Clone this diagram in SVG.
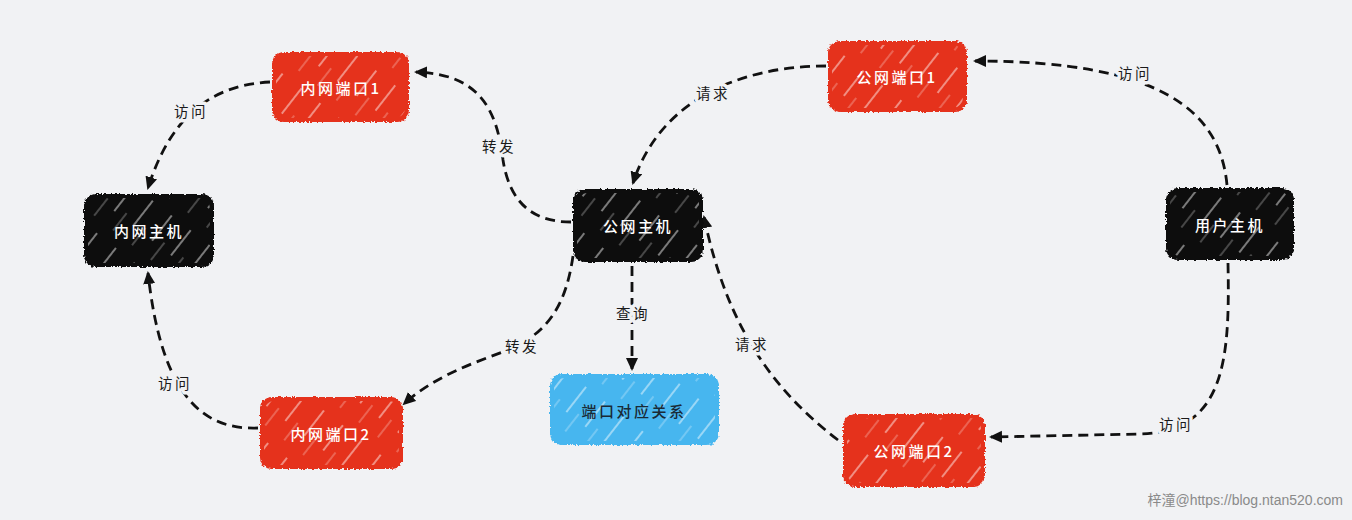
<svg xmlns="http://www.w3.org/2000/svg" width="1352" height="520" viewBox="0 0 1352 520">
<defs>
  <style>
    .node-text{font-family:"Noto Sans CJK SC","Liberation Sans",sans-serif;font-size:15px;font-weight:500;fill:#ffffff;letter-spacing:2.5px;text-anchor:middle;dominant-baseline:central}
    .lbl{font-family:"Noto Sans CJK SC","Liberation Sans",sans-serif;font-size:14.5px;fill:#1a1a1a;letter-spacing:2.5px;text-anchor:middle;dominant-baseline:central;stroke:#f1f2f4;stroke-width:7px;paint-order:stroke;stroke-linejoin:round}
    .conn{fill:none;stroke:#111;stroke-width:2.8;stroke-dasharray:10 6;marker-end:url(#arrow)}
    .red{fill:#e5311d}
    .black{fill:#0d0d0d}
    .blue{fill:#46b6ef}
    .hatch{fill:url(#hachure)}
  </style>
  <filter id="rough" x="-5%" y="-5%" width="110%" height="110%">
    <feTurbulence type="fractalNoise" baseFrequency="0.45" numOctaves="2" seed="3" result="n"/>
    <feDisplacementMap in="SourceGraphic" in2="n" scale="4" xChannelSelector="R" yChannelSelector="G"/>
  </filter>
  <pattern id="hachure" patternUnits="userSpaceOnUse" width="24" height="60" patternTransform="rotate(38)">
    <line x1="4" y1="4" x2="4" y2="36" stroke="#ffffff" stroke-opacity="0.6" stroke-width="1.5"/>
    <line x1="15" y1="30" x2="15" y2="52" stroke="#ffffff" stroke-opacity="0.4" stroke-width="1.2"/>
  </pattern>
  <marker id="arrow" markerUnits="userSpaceOnUse" markerWidth="15" markerHeight="13" refX="11" refY="6" orient="auto">
    <path d="M0,0 L13,6 L0,12 Z" fill="#111"/>
  </marker>
</defs>
<rect x="0" y="0" width="1352" height="520" fill="#f1f2f4"/>

<g id="connectors">
  <path class="conn" d="M571,222 C535,222 510,205 503,160 C497,110 480,74 416,72"/>
  <path class="conn" d="M270,82 C215,85 172,112 148,188"/>
  <path class="conn" d="M258,428 C205,430 162,400 148,273"/>
  <path class="conn" d="M573,256 C566,305 548,333 508,350 C470,364 432,378 404,404"/>
  <path class="conn" d="M632,266 L632,369"/>
  <path class="conn" d="M826,66 C740,66 660,100 633,183"/>
  <path class="conn" d="M1227,185 C1220,110 1160,61 975,61"/>
  <path class="conn" d="M1228,263 C1230,360 1225,432 1140,434 L991,437"/>
  <path class="conn" d="M838,440 C762,382 724,312 704,217"/>
  <text class="lbl" x="499" y="145">转发</text>
  <text class="lbl" x="191" y="110">访问</text>
  <text class="lbl" x="175" y="382">访问</text>
  <text class="lbl" x="522" y="345">转发</text>
  <text class="lbl" x="633" y="312">查询</text>
  <text class="lbl" x="713" y="92">请求</text>
  <text class="lbl" x="1135" y="72">访问</text>
  <text class="lbl" x="1176" y="423">访问</text>
  <text class="lbl" x="752" y="343">请求</text>
</g>

<g id="node-nw-port1">
  <rect class="red" x="272" y="52" width="137" height="70" rx="12" filter="url(#rough)"/>
  <rect class="hatch" x="276" y="56" width="129" height="62" rx="10"/>
  <text class="node-text" x="341" y="87">内网端口1</text>
</g>
<g id="node-nw-host">
  <rect class="black" x="84" y="194" width="130" height="73" rx="12" filter="url(#rough)"/>
  <rect class="hatch" x="88" y="198" width="122" height="65" rx="10"/>
  <text class="node-text" x="149" y="230">内网主机</text>
</g>
<g id="node-nw-port2">
  <rect class="red" x="260" y="397" width="143" height="72" rx="12" filter="url(#rough)"/>
  <rect class="hatch" x="264" y="401" width="135" height="64" rx="10"/>
  <text class="node-text" x="331" y="433">内网端口2</text>
</g>
<g id="node-pub-host">
  <rect class="black" x="573" y="189" width="130" height="73" rx="12" filter="url(#rough)"/>
  <rect class="hatch" x="577" y="193" width="122" height="65" rx="10"/>
  <text class="node-text" x="638" y="225">公网主机</text>
</g>
<g id="node-mapping">
  <rect class="blue" x="550" y="374" width="169" height="71" rx="12" filter="url(#rough)"/>
  <rect class="hatch" x="554" y="378" width="161" height="63" rx="10"/>
  <text class="node-text" x="634" y="410" style="fill:#1a2a36">端口对应关系</text>
</g>
<g id="node-pub-port1">
  <rect class="red" x="828" y="41" width="139" height="71" rx="12" filter="url(#rough)"/>
  <rect class="hatch" x="832" y="45" width="131" height="63" rx="10"/>
  <text class="node-text" x="897" y="76">公网端口1</text>
</g>
<g id="node-user-host">
  <rect class="black" x="1166" y="188" width="128" height="72" rx="12" filter="url(#rough)"/>
  <rect class="hatch" x="1170" y="192" width="120" height="64" rx="10"/>
  <text class="node-text" x="1230" y="224">用户主机</text>
</g>
<g id="node-pub-port2">
  <rect class="red" x="843" y="414" width="142" height="73" rx="12" filter="url(#rough)"/>
  <rect class="hatch" x="847" y="418" width="134" height="65" rx="10"/>
  <text class="node-text" x="914" y="450">公网端口2</text>
</g>

<text x="1343" y="505" text-anchor="end" font-family="Liberation Sans,Noto Sans CJK SC,sans-serif" font-size="14" fill="#8a8a8a">梓潼@https://blog.ntan520.com</text>
</svg>
